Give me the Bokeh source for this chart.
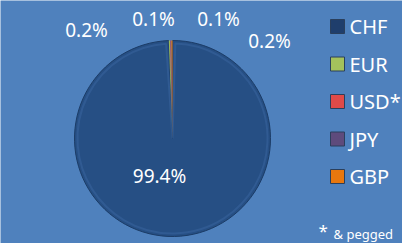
import math, re
from bokeh.plotting import figure
from bokeh.models import Range1d, ColumnDataSource
from bokeh.core.properties import value
from bokeh.embed import file_html
from bokeh.resources import INLINE

# ---- data ----
currencies = ["CHF", "EUR", "USD*", "JPY", "GBP"]
shares = [99.4, 0.2, 0.1, 0.1, 0.2]
labels = ["99.4%", "0.2%", "0.1%", "0.1%", "0.2%"]
footnote = "& pegged"

# ---- style / layout ----
BG = "#4F81BD"
colors = ["#264F84", "#9BBB59", "#D9504D", "#60497C", "#E8770E"]
edge_colors = ["#1C3C66", None, None, None, None]
legend_colors = ["#1F3E6C", "#A4C15C", "#E04A48", "#5E4B7C", "#E8770E"]
W, H = 402, 243
FONT = "Noto Sans"

def X(px):
    return px

def Y(py):
    return H - py

cx, cy, R = X(172), Y(138), 98

p = figure(width=W, height=H, output_backend="svg", toolbar_location=None,
           x_range=Range1d(0, W), y_range=Range1d(0, H), min_border=0)
p.axis.visible = False
p.grid.visible = False
p.outline_line_color = None
p.background_fill_color = BG
p.border_fill_color = BG

# wedges, clockwise from 12 o'clock
total = sum(shares)
starts, ends = [], []
acc = 0.0
for s in shares:
    a0 = math.pi / 2 - 2 * math.pi * acc / total
    acc += s
    a1 = math.pi / 2 - 2 * math.pi * acc / total
    starts.append(a0)
    ends.append(a1)

src = ColumnDataSource(dict(start=starts, end=ends, color=colors, edge=edge_colors))
p.wedge(x=cx, y=cy, radius=R, start_angle="start", end_angle="end",
        direction="clock", fill_color="color", line_color="edge",
        line_width=1, source=src)
# subtle bevel highlight on rim
p.wedge(x=cx, y=cy, radius=R - 3, start_angle=starts[0] - 0.03, end_angle=ends[0] + 0.03,
        direction="clock", fill_color=None, line_color="#3A66A0", line_width=2, line_alpha=0.5)

# data labels (positions as laid out in the reference)
label_pos = [(159, 175), (86, 29), (153, 18), (218, 18), (269, 40)]
lx = [X(a) for a, b in label_pos]
ly = [Y(b) for a, b in label_pos]
p.text(x=lx, y=ly, text=labels, text_color="white", text_font=value(FONT),
       text_font_size="19px", text_align="center", text_baseline="middle")

# legend
rows = [26 + 37.5 * i for i in range(len(currencies))]
p.rect(x=[X(337)] * len(rows), y=[Y(r) for r in rows], width=14, height=14,
       fill_color=legend_colors, line_color="#2A3F5C", line_width=1)
p.text(x=[X(349)] * len(rows), y=[Y(r) for r in rows], text=currencies,
       text_color="white", text_font=value(FONT), text_font_size="20px",
       text_align="left", text_baseline="middle")

# footnote
p.text(x=[X(318)], y=[Y(230)], text=["*"], text_color="white", text_font=value(FONT),
       text_font_size="17px", text_align="left", text_baseline="middle")
p.text(x=[X(333)], y=[Y(233)], text=[footnote], text_color="white", text_font=value(FONT),
       text_font_size="13px", text_align="left", text_baseline="middle")

html = file_html(p, INLINE)
html = re.sub(r"<body([^>]*)>", r'<body\1 style="margin:0;background-color:%s;">' % BG, html, count=1)
open("out.html", "w").write(html)
